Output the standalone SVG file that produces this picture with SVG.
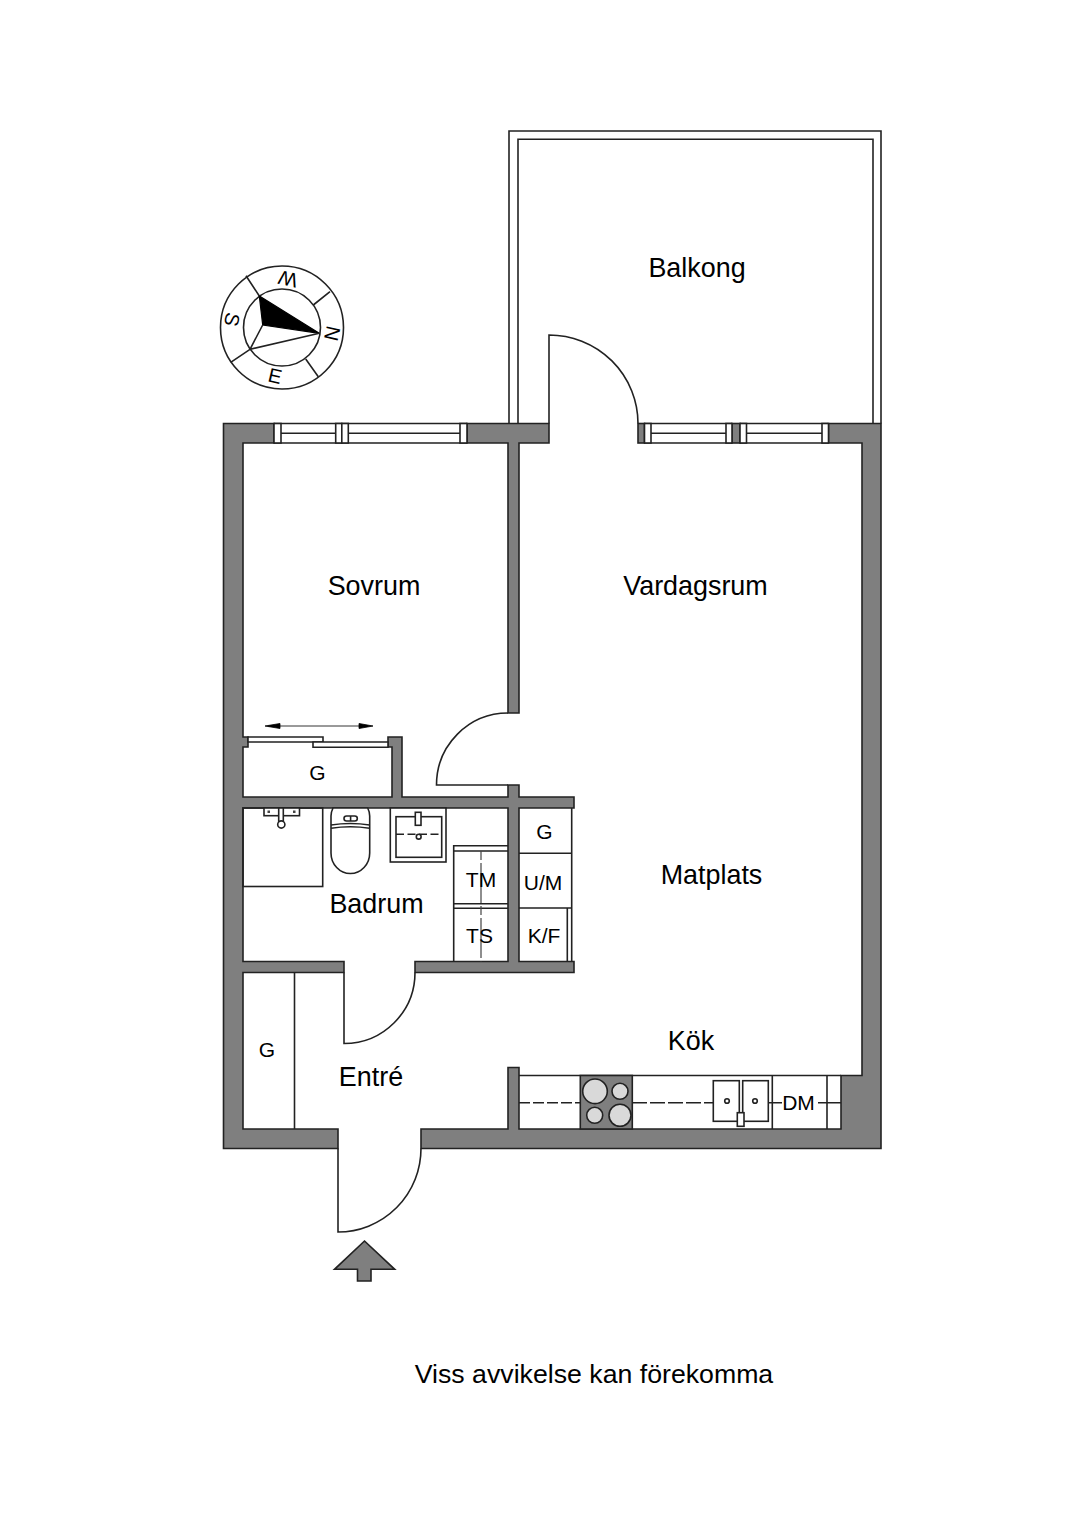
<svg xmlns="http://www.w3.org/2000/svg" width="1086" height="1536" viewBox="0 0 1086 1536">
<style>
.w{fill:#7f7f7f;stroke:#222;stroke-width:1.6;stroke-linejoin:miter}
.l{fill:none;stroke:#222;stroke-width:1.6}
.f{fill:#fff;stroke:#222;stroke-width:1.6}
.t{font-family:"Liberation Sans",Arial,sans-serif;fill:#000;text-anchor:middle}
.r{font-size:26.9px}
.s{font-size:21px}
.c{font-size:20px}
</style>
<rect width="1086" height="1536" fill="#fff"/>
<g id="balcony">
<path class="l" d="M509 423.500V131H881V423.500M518 423.500V139.300H873V423.500"/>
<text class="t r" x="697" y="277">Balkong</text>
</g>
<g id="walls">
<path class="w" d="M223.500 423.500H274V443H243V737H248V747H243V797H392V747H388V737H402V797H508V785H519V797H574V808H519V961.500H574V972.500H415V961.500H508V808H243V961.500H344V972.500H243V1129H338V1148.500H223.500Z"/>
<path class="w" d="M467 423.500H549V443H519V713H508V443H467Z"/>
<path class="w" d="M421 1148.500V1129H508V1067.500H519V1129H841V1075.500H862V443H828.500V423.500H881V1148.500Z"/>
<rect class="w" x="638" y="423.500" width="6.500" height="19.500"/>
<rect class="w" x="732" y="423.500" width="8" height="19.500"/>
</g>
<g id="windows">
<path class="l" d="M281 433.200H335.700M348.300 433.200H460M650.700 433.200H726M746.500 433.200H822"/>
<path class="l" d="M274 423.500H467M274 443H467M644 423.500H732M644 443H732M740 423.500H828M740 443H828"/>
<rect class="f" x="274" y="423.500" width="7" height="19.500"/>
<rect class="f" x="335.700" y="423.500" width="6.100" height="19.500"/>
<rect class="f" x="341.800" y="423.500" width="6.500" height="19.500"/>
<rect class="f" x="460" y="423.500" width="7" height="19.500"/>
<rect class="f" x="644.500" y="423.500" width="6.500" height="19.500"/>
<rect class="f" x="726" y="423.500" width="6" height="19.500"/>
<rect class="f" x="740" y="423.500" width="6.500" height="19.500"/>
<rect class="f" x="822" y="423.500" width="6.500" height="19.500"/>
</g>
<g id="doors">
<path class="l" d="M549 423.500V335A89 88.500 0 0 1 638 423.500"/>
<path class="l" d="M508 785H436.500A71.500 72 0 0 1 508 713"/>
<path class="l" d="M344 972.500V1043.500A71 71 0 0 0 415 972.500"/>
<path class="l" d="M338 1148.500V1232A83 83.500 0 0 0 421 1148.500"/>
</g>
<g id="sovrum"><text class="t r" x="374" y="595">Sovrum</text></g>
<g id="vardagsrum"><text class="t r" x="695.500" y="595">Vardagsrum</text></g>
<g id="matplats"><text class="t r" x="711.500" y="884">Matplats</text></g>
<g id="kok"><text class="t r" x="691" y="1050">Kök</text></g>
<g id="entre"><text class="t r" x="371" y="1086">Entré</text></g>
<g id="badrum"><text class="t r" x="376.500" y="913">Badrum</text></g>
<g id="closet">
<path class="f" d="M248 737H323V742H248Z"/>
<path class="f" d="M313 742H388V747.300H313Z"/>
<path d="M268 726H359M265 726L280 723.500V728.500ZM373 726L359 723.500V728.500Z" fill="#000" stroke="#000" stroke-width="0.8"/>
<text class="t s" x="317.500" y="780">G</text>
</g>
<g id="bath-fixtures">
<rect class="l" x="243" y="808" width="79.700" height="78.500"/>
<rect class="f" x="264" y="808" width="35.500" height="7.700"/>
<path d="M267.500 810.500h2.500v2.500h-2.500zM293 810.500h2.500v2.500h-2.500z" fill="#444"/>
<rect class="f" x="278.700" y="808" width="4.600" height="14"/>
<circle class="f" cx="281.300" cy="824.500" r="3.600" stroke-width="2"/>
<path class="f" d="M333 808C331.500 811 331 813 331 816V853A19.300 20.500 0 0 0 369.700 853V816C369.700 813 369.200 811 367.700 808Z"/>
<path class="l" d="M331 825Q350.300 822 369.700 825M331 828.300Q350.300 825.300 369.700 828.300"/>
<rect class="f" x="344" y="816" width="13.300" height="5" rx="2.500"/>
<path class="l" d="M350.600 816V821"/>
<rect class="f" x="390.300" y="808" width="55.700" height="54"/>
<rect class="f" x="396" y="816.700" width="45.700" height="40.600"/>
<path class="l" d="M396 834.300H441.700" stroke-dasharray="8 3.500"/>
<rect class="f" x="415.300" y="812.300" width="5.700" height="13"/>
<circle class="f" cx="418.700" cy="836.700" r="2.400" stroke-width="2.400"/>
<path class="l" d="M453.700 961.500V845.700H508M453.700 851H508M453.700 903.700H508M453.700 908.300H508"/>
<path d="M481 851V961.500" fill="none" stroke="#444" stroke-width="1.200" stroke-dasharray="9 3 40 3"/>
<text class="t s" x="481" y="887">TM</text>
<text class="t s" x="479.500" y="943">TS</text>
</g>
<g id="cabinets">
<path class="l" d="M571.700 808V961.500M519 853.300H571.700M519 908H571.700M567.300 908V961.500"/>
<text class="t s" x="544.500" y="838.500">G</text>
<text class="t s" x="543" y="890">U/M</text>
<text class="t s" x="544" y="942.500">K/F</text>
</g>
<g id="entry-closet">
<path class="l" d="M294.500 972.500V1129"/>
<text class="t s" x="267" y="1057">G</text>
</g>
<g id="kitchen">
<path class="l" d="M519 1075.500H841M772.300 1075.500V1129M827 1075.500V1129"/>
<path class="l" d="M519 1102.700H580" stroke-dasharray="11 3"/>
<path class="l" d="M632 1102.700H713" stroke-dasharray="15 3"/>
<path class="l" d="M768 1102.700H782M818 1102.700H841"/>
<rect class="w" x="580.300" y="1075.500" width="52" height="53.500"/>
<g fill="#d9d9d9" stroke="#222" stroke-width="1.600">
<circle cx="595" cy="1091.300" r="12.300"/>
<circle cx="620" cy="1091.300" r="8"/>
<circle cx="594.700" cy="1115.300" r="8"/>
<circle cx="620" cy="1115.300" r="11"/>
</g>
<rect class="f" x="713.300" y="1080.700" width="26" height="40.600"/>
<rect class="f" x="742.700" y="1080.700" width="25.600" height="40.600"/>
<circle class="f" cx="727" cy="1101" r="2.300" stroke-width="2.200"/>
<circle class="f" cx="755" cy="1101" r="2.300" stroke-width="2.200"/>
<rect class="f" x="737.300" y="1112.700" width="6.700" height="13.600"/>
<text class="t s" x="798.500" y="1110">DM</text>
</g>
<g id="compass">
<circle class="l" cx="282" cy="327.500" r="61.500"/>
<circle class="l" cx="282" cy="327.500" r="38.500"/>
<path d="M319.300 333.300L259.300 296L262.700 325Z" fill="#000" stroke="#000" stroke-width="1.200" stroke-linejoin="miter"/>
<path class="l" d="M319.300 333.300L250 349.300L262.700 325M246 275.700L259.300 296M230.700 362.300L250 349.300M330 291.700L313.300 305M318.300 376.700L305.700 359"/>
<text class="t c" transform="translate(332 333.500) rotate(-77)" y="7">N</text>
<text class="t c" transform="translate(275 376) rotate(13)" y="7">E</text>
<text class="t c" transform="translate(232 319.500) rotate(103)" y="7">S</text>
<text class="t c" transform="translate(288 279) rotate(193)" y="7">W</text>
</g>
<g id="entrance-arrow">
<path class="w" d="M364.500 1241L394.700 1269.300H371V1281H357.500V1269.300H334.500Z"/>
</g>
<g id="note"><text class="t" font-size="26.700" x="594" y="1383">Viss avvikelse kan förekomma</text></g>
</svg>
